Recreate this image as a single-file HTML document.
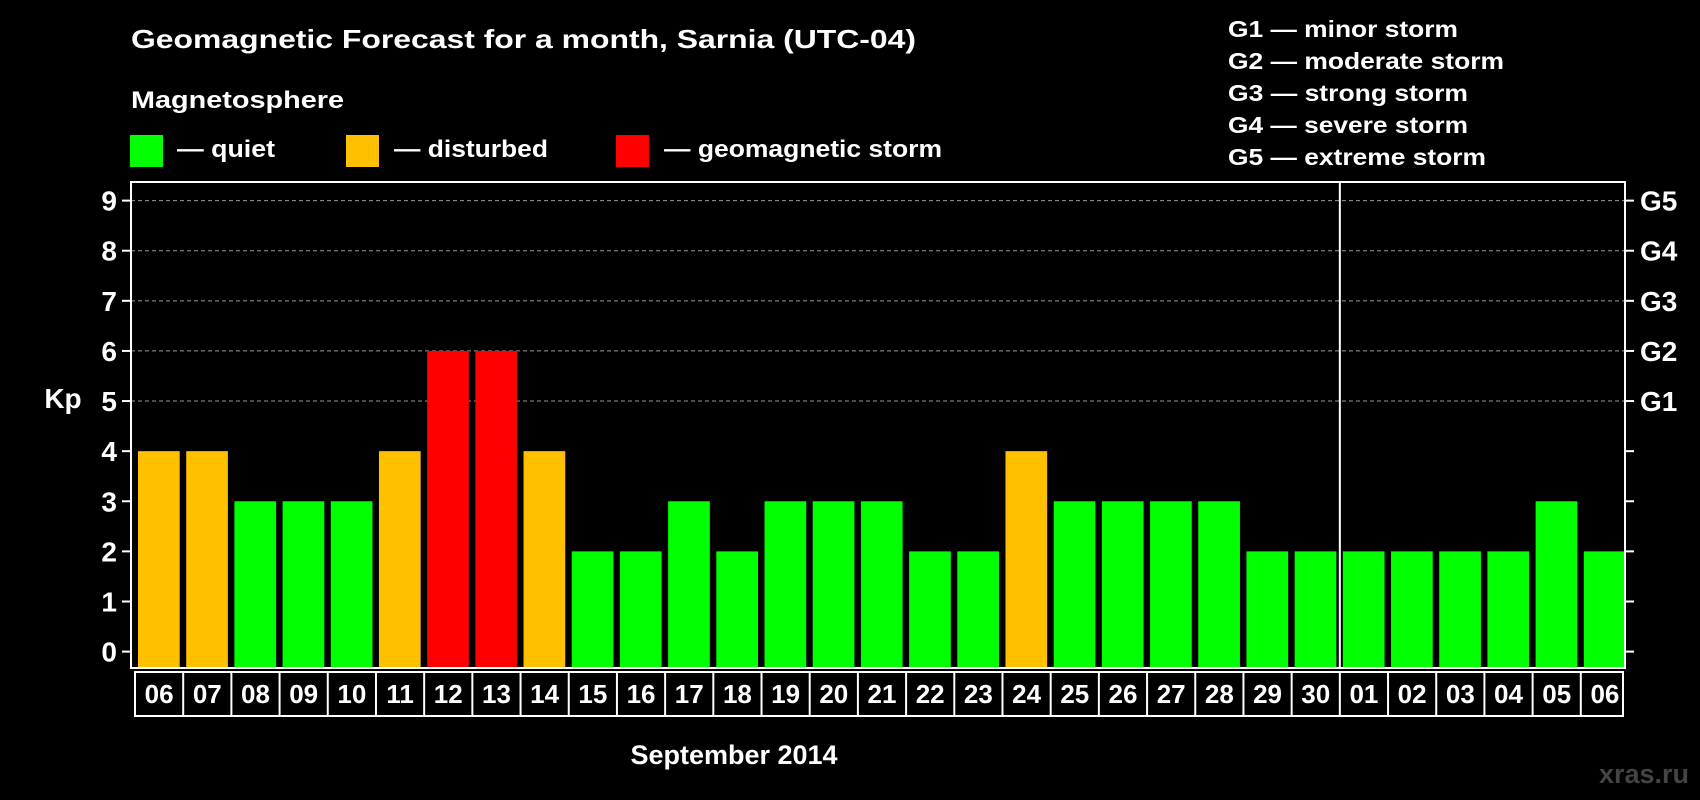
<!DOCTYPE html>
<html><head><meta charset="utf-8"><style>
html,body{margin:0;padding:0;background:#000;width:1700px;height:800px;overflow:hidden}
svg{display:block;font-family:"Liberation Sans",Arial,sans-serif;font-weight:bold}
</style></head><body>
<svg id="chart" width="1700" height="800" viewBox="0 0 1700 800" xmlns="http://www.w3.org/2000/svg">
<rect x="0" y="0" width="1700" height="800" fill="#000"/>
<text x="131" y="48" fill="#fff" font-size="26" textLength="785" lengthAdjust="spacingAndGlyphs">Geomagnetic Forecast for a month, Sarnia (UTC-04)</text>
<text x="131" y="108" fill="#fff" font-size="24" textLength="213" lengthAdjust="spacingAndGlyphs">Magnetosphere</text>
<g>
<rect x="130" y="135" width="33" height="32" fill="#00ff00"/>
<text x="177" y="157" fill="#fff" font-size="24" textLength="98" lengthAdjust="spacingAndGlyphs">— quiet</text></g>
<g>
<rect x="346" y="135" width="33" height="32" fill="#ffc000"/>
<text x="394" y="157" fill="#fff" font-size="24" textLength="154" lengthAdjust="spacingAndGlyphs">— disturbed</text></g>
<g>
<rect x="616" y="135" width="33" height="32" fill="#ff0000"/>
<text x="664" y="157" fill="#fff" font-size="24" textLength="278" lengthAdjust="spacingAndGlyphs">— geomagnetic storm</text></g>
<g fill="#fff" font-size="23">
<text x="1228" y="37" textLength="230" lengthAdjust="spacingAndGlyphs">G1 — minor storm</text>
<text x="1228" y="69" textLength="276" lengthAdjust="spacingAndGlyphs">G2 — moderate storm</text>
<text x="1228" y="101" textLength="240" lengthAdjust="spacingAndGlyphs">G3 — strong storm</text>
<text x="1228" y="133" textLength="240" lengthAdjust="spacingAndGlyphs">G4 — severe storm</text>
<text x="1228" y="165" textLength="258" lengthAdjust="spacingAndGlyphs">G5 — extreme storm</text>
</g>
<text x="63" y="408" fill="#fff" font-size="28" text-anchor="middle">Kp</text>
<g id="grid"></g><g id="bars"></g><g id="axes"></g><g id="xlabels"></g>
<text x="734" y="764" fill="#fff" font-size="27" text-anchor="middle">September 2014</text>
<text x="1689" y="783" fill="#444" font-size="27" text-anchor="end">xras.ru</text>
</svg>
<script>
const days=["06","07","08","09","10","11","12","13","14","15","16","17","18","19","20","21","22","23","24","25","26","27","28","29","30","01","02","03","04","05","06"];
const kpValues=[4,4,3,3,3,4,6,6,4,2,2,3,2,3,3,3,2,2,4,3,3,3,3,2,2,2,2,2,2,3,2];
const yTicks=[0,1,2,3,4,5,6,7,8,9];
const gLabels=["","","","","","G1","G2","G3","G4","G5"];
const levelColors=["#00ff00","#00ff00","#00ff00","#00ff00","#ffc000","#ff0000","#ff0000","#ff0000","#ff0000","#ff0000"];
const monthBreakIndex=25;
const NS="http://www.w3.org/2000/svg";
const L=131,R=1625,T=182,B=668;
const slot=(R-L)/days.length;
const y=v=>651.6-v*(651.6-200.6)/9;
const x=i=>L+i*slot;
function mk(tag,attrs,parent){const e=document.createElementNS(NS,tag);for(const k in attrs)e.setAttribute(k,attrs[k]);parent.appendChild(e);return e;}
const grid=document.getElementById('grid'),bars=document.getElementById('bars'),axes=document.getElementById('axes'),xl=document.getElementById('xlabels');
yTicks.forEach((v,i)=>{
  if(v>=5){const g=mk('line',{x1:L,x2:R,y1:y(v),y2:y(v),stroke:'#999','stroke-width':1,'stroke-dasharray':'4,3'},grid);
  
  }
  const t1=mk('line',{x1:L-9,x2:L,y1:y(v),y2:y(v),stroke:'#fff','stroke-width':2},axes);
  
  
  const t2=mk('line',{x1:R,x2:R+9,y1:y(v),y2:y(v),stroke:'#fff','stroke-width':2},axes);
  
  
  const lb=mk('text',{x:117,y:y(v)+10,fill:'#fff','font-size':28,'text-anchor':'end'},axes);lb.textContent=v;
  
  
  if(gLabels[i]){const gl=mk('text',{x:1640,y:y(v)+10,fill:'#fff','font-size':28},axes);gl.textContent=gLabels[i];
  
  }
});
kpValues.forEach((v,i)=>{
  const r=mk('rect',{x:x(i)+7,y:y(v),width:slot-6.5,height:B-y(v),fill:levelColors[v]},bars);
  
  
  const c=mk('line',{x1:x(i)+4,x2:x(i)+4,y1:672,y2:716,stroke:'#fff','stroke-width':2},xl);
  
  
  const t=mk('text',{x:x(i)+4+slot/2,y:703,fill:'#fff','font-size':26,'text-anchor':'middle'},xl);t.textContent=days[i];
  
  
});
const bx=mk('rect',{x:x(0)+4,y:672,width:R-2-(x(0)+4),height:44,fill:'none',stroke:'#fff','stroke-width':2},xl);


const frame=mk('rect',{x:L,y:T,width:R-L,height:B-T,fill:'none',stroke:'#fff','stroke-width':2},axes);


const mb=mk('line',{x1:x(monthBreakIndex)+4,x2:x(monthBreakIndex)+4,y1:T,y2:B,stroke:'#fff','stroke-width':2},axes);


</script>
</body></html>
